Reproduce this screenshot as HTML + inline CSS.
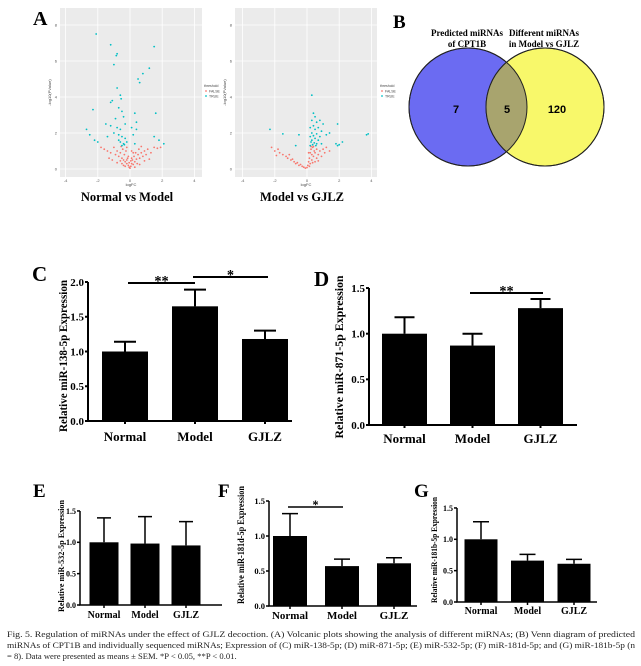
<!DOCTYPE html>
<html><head><meta charset="utf-8"><style>
html,body{margin:0;padding:0;background:#fff;}
svg{display:block;font-family:"Liberation Serif",serif;}
</style></head><body>
<svg id="fig" width="641" height="666" viewBox="0 0 641 666" xmlns="http://www.w3.org/2000/svg">
<!-- Panel A -->
<text x="33" y="25" font-size="20" font-weight="bold">A</text>
<g id="volcL"></g>
<g id="volcR"></g>
<text x="127" y="201" font-size="12.5" font-weight="bold" text-anchor="middle">Normal vs Model</text>
<text x="302" y="201" font-size="12.5" font-weight="bold" text-anchor="middle">Model vs GJLZ</text>
<!-- Panel B -->
<text x="393" y="28" font-size="19" font-weight="bold">B</text>
<g>
<circle cx="468" cy="107" r="59" fill="#6b6bf2" stroke="#222" stroke-width="1"/>
<circle cx="545" cy="107" r="59" fill="#f8f86a" stroke="#222" stroke-width="1"/>
<clipPath id="cpB"><circle cx="468" cy="107" r="59"/></clipPath>
<circle cx="545" cy="107" r="59" fill="#a8a46e" clip-path="url(#cpB)"/>
<circle cx="468" cy="107" r="59" fill="none" stroke="#222" stroke-width="1"/>
<circle cx="545" cy="107" r="59" fill="none" stroke="#222" stroke-width="1"/>
<text x="456" y="113" font-size="11" font-weight="bold" text-anchor="middle" font-family="Liberation Sans, sans-serif">7</text>
<text x="507" y="113" font-size="11" font-weight="bold" text-anchor="middle" font-family="Liberation Sans, sans-serif">5</text>
<text x="557" y="113" font-size="11" font-weight="bold" text-anchor="middle" font-family="Liberation Sans, sans-serif">120</text>
<text x="467" y="36" font-size="9" font-weight="bold" text-anchor="middle">Predicted miRNAs</text>
<text x="467" y="47" font-size="9" font-weight="bold" text-anchor="middle">of CPT1B</text>
<text x="544" y="36" font-size="9" font-weight="bold" text-anchor="middle">Different miRNAs</text>
<text x="544" y="47" font-size="9" font-weight="bold" text-anchor="middle">in Model vs GJLZ</text>
</g>
<!-- Panel letters -->
<text x="32" y="281" font-size="21" font-weight="bold">C</text>
<text x="314" y="286" font-size="21" font-weight="bold">D</text>
<text x="33" y="497" font-size="19" font-weight="bold">E</text>
<text x="218" y="497" font-size="19" font-weight="bold">F</text>
<text x="414" y="497" font-size="19" font-weight="bold">G</text>
<g id="bars"></g>
<g font-size="8.6" fill="#222">
<text x="7" y="637" textLength="628" lengthAdjust="spacingAndGlyphs">Fig. 5. Regulation of miRNAs under the effect of GJLZ decoction. (A) Volcanic plots showing the analysis of different miRNAs; (B) Venn diagram of predicted</text>
<text x="7" y="648" textLength="628" lengthAdjust="spacingAndGlyphs">miRNAs of CPT1B and individually sequenced miRNAs; Expression of (C) miR-138-5p; (D) miR-871-5p; (E) miR-532-5p; (F) miR-181d-5p; and (G) miR-181b-5p (n</text>
<text x="7" y="659">= 8). Data were presented as means ± SEM. *P &lt; 0.05, **P &lt; 0.01.</text>
</g>
</svg>
<script>
const NS="http://www.w3.org/2000/svg";
// ---------- Volcano data ----------
const volcTicksX=[-4,-2,0,2,4];
const volcTicksY=[0,2,4,6,8];
const leftTrue=[[-2.1,7.5],[-1.2,6.9],[-0.8,6.4],[-0.85,6.3],[-1.0,5.8],[1.5,6.8],[1.2,5.6],[0.8,5.3],[0.5,5.0],[0.6,4.8],[-0.8,4.5],[-0.6,4.1],[-0.55,3.9],[-1.2,3.7],[-1.1,3.8],[-2.3,3.3],[-0.7,3.4],[-0.5,3.2],[0.3,3.1],[1.6,3.1],[-0.9,2.8],[-0.4,2.9],[0.4,2.6],[-1.5,2.5],[-1.2,2.4],[-0.8,2.3],[-0.6,2.2],[-0.3,2.5],[0.1,2.3],[0.4,2.2],[-2.7,2.2],[-2.5,1.9],[-1.0,2.0],[-0.7,1.9],[-0.5,1.8],[-0.3,1.7],[0.2,1.9],[1.5,1.8],[1.8,1.6],[-2.2,1.6],[-2.0,1.5],[-1.4,1.8],[-0.6,1.5],[-0.4,1.4],[-0.2,1.5],[0.3,1.4],[2.1,1.4],[-0.5,1.3],[-0.35,1.35],[-0.7,1.6]];
const leftFalse=[[-1.8,1.2],[-1.6,1.1],[-1.4,1.0],[-1.2,0.9],[-1.0,1.2],[-0.9,0.8],[-0.8,1.0],[-0.7,0.7],[-0.6,0.9],[-0.5,0.6],[-0.45,1.1],[-0.4,0.5],[-0.35,0.8],[-0.3,0.4],[-0.25,1.0],[-0.2,0.3],[-0.15,0.6],[-0.1,0.2],[-0.05,0.1],[0,0.05],[0.05,0.15],[0.1,0.3],[0.15,0.5],[0.2,0.25],[0.25,0.7],[0.3,0.4],[0.35,0.9],[0.4,0.55],[0.5,0.8],[0.55,1.1],[0.6,0.6],[0.7,0.9],[0.8,0.7],[0.9,1.0],[1.0,0.8],[1.1,1.1],[1.3,0.9],[1.5,1.2],[1.7,1.15],[1.9,1.2],[-0.3,0.15],[-0.2,0.5],[-0.1,0.7],[0.1,0.6],[0.2,0.9],[-0.5,0.3],[-0.6,0.45],[0.45,0.3],[0.6,0.25],[-1.3,0.6],[-1.1,0.5],[0.9,0.45],[1.2,0.55],[-0.8,0.35],[-0.4,0.2],[0.3,0.1],[0.05,0.45],[-0.05,0.35],[-0.2,1.2],[0.1,1.0],[-0.55,1.25],[0.7,1.25]];
const rightTrue=[[0.3,4.1],[0.4,3.1],[0.5,2.9],[0.3,2.7],[0.6,2.6],[0.8,2.7],[1.0,2.5],[0.4,2.4],[0.2,2.3],[0.7,2.3],[0.5,2.2],[0.9,2.1],[0.3,2.0],[0.6,1.95],[0.4,1.85],[0.2,1.8],[0.8,1.8],[1.2,1.9],[0.5,1.7],[0.3,1.6],[0.7,1.6],[0.25,1.5],[0.45,1.45],[0.6,1.4],[0.35,1.35],[0.2,1.3],[0.55,1.3],[0.9,1.4],[1.4,2.0],[-2.3,2.2],[-1.5,1.95],[-0.5,1.9],[1.9,2.5],[1.8,1.4],[1.9,1.3],[2.0,1.35],[2.2,1.5],[3.7,1.9],[3.8,1.95],[-0.7,1.3]];
const rightFalse=[[-2.2,1.2],[-2.0,1.0],[-1.8,1.1],[-1.7,0.9],[-1.5,0.8],[-1.3,0.7],[-1.2,0.6],[-1.0,0.5],[-0.9,0.55],[-0.8,0.4],[-0.7,0.3],[-0.6,0.35],[-0.5,0.2],[-0.4,0.25],[-0.3,0.15],[-0.2,0.1],[-0.1,0.05],[0,0.08],[0.05,0.2],[0.1,0.4],[0.15,0.6],[0.2,0.9],[0.2,0.3],[0.25,1.1],[0.3,0.5],[0.3,0.8],[0.35,1.2],[0.4,0.7],[0.45,1.0],[0.5,0.4],[0.5,0.9],[0.6,1.1],[0.6,0.6],[0.7,0.8],[0.8,1.0],[0.9,0.7],[1.0,1.1],[1.1,0.9],[1.2,1.2],[1.4,1.0],[0.15,0.15],[0.1,0.9],[0.35,0.35],[-1.1,0.8],[-1.9,0.75],[0.25,1.25],[0.4,1.25],[0.7,0.45]];

function mk(tag,attrs,parent){const e=document.createElementNS(NS,tag);for(const k in attrs)e.setAttribute(k,attrs[k]);parent.appendChild(e);return e;}

function volcano(gid,left,x0scale,ptsTrue,ptsFalse,legX){
  const g=document.getElementById(gid);
  const right=left+142, top=8, bottom=177;
  const sx=v=>x0scale+v*16.1;
  const sy=v=>169-v*18;
  const bg=mk('rect',{x:left,y:top,width:right-left,height:bottom-top,fill:'#ebebeb'},g);
  
  
  volcTicksX.forEach(t=>{mk('line',{x1:sx(t),x2:sx(t),y1:top,y2:bottom,stroke:'#fff','stroke-width':0.8},g);
    const tl=mk('text',{x:sx(t),y:182,'font-size':4,'text-anchor':'middle',fill:'#555','font-family':'Liberation Sans, sans-serif'},g);tl.textContent=t;
    
    });
  volcTicksY.forEach(t=>{mk('line',{x1:left,x2:right,y1:sy(t),y2:sy(t),stroke:'#fff','stroke-width':0.8},g);
    const tl=mk('text',{x:left-3,y:sy(t)+1.5,'font-size':4,'text-anchor':'end',fill:'#555','font-family':'Liberation Sans, sans-serif'},g);tl.textContent=t;
    
    });
  const xt=mk('text',{x:(left+right)/2,y:186,'font-size':4,'text-anchor':'middle',fill:'#444','font-family':'Liberation Sans, sans-serif'},g);xt.textContent='logFC';
  
  
  const yt=mk('text',{x:0,y:0,'font-size':4,'text-anchor':'middle',fill:'#444','font-family':'Liberation Sans, sans-serif',transform:`translate(${left-9},${(top+bottom)/2}) rotate(-90)`},g);yt.textContent='-log10(PValue)';
  
  
  ptsFalse.forEach(p=>{const c=mk('circle',{cx:sx(p[0]),cy:sy(p[1]),r:0.9,fill:'#f8766d'},g);
    
    });
  ptsTrue.forEach(p=>{const c=mk('circle',{cx:sx(p[0]),cy:sy(p[1]),r:0.9,fill:'#00bfc4'},g);
    
    });
  const lg=mk('g',{'font-family':'Liberation Sans, sans-serif','font-size':3.5,fill:'#444'},g);
  
  
  mk('text',{x:legX,y:87},lg).textContent='threshold';
  mk('circle',{cx:legX+2,cy:91,r:0.9,fill:'#f8766d'},lg);
  mk('text',{x:legX+5,y:92.3},lg).textContent='FALSE';
  mk('circle',{cx:legX+2,cy:96,r:0.9,fill:'#00bfc4'},lg);
  mk('text',{x:legX+5,y:97.3},lg).textContent='TRUE';
}
volcano('volcL',60,130,leftTrue,leftFalse,204);
volcano('volcR',235,307,rightTrue,rightFalse,380);

// ---------- Bar chart data ----------
const categories=['Normal','Model','GJLZ'];
const cMeans=[1.0,1.65,1.18];
const cErrors=[0.14,0.24,0.12];
const dMeans=[1.0,0.87,1.28];
const dErrors=[0.18,0.13,0.10];
const eMeans=[1.0,0.98,0.95];
const eErrors=[0.39,0.43,0.38];
const fMeans=[1.0,0.57,0.61];
const fErrors=[0.32,0.10,0.08];
const gMeans=[1.0,0.66,0.61];
const gErrors=[0.28,0.10,0.07];
const cTicks=[0,0.5,1.0,1.5,2.0];
const smallTicks=[0,0.5,1.0,1.5];
const cTitle='Relative miR-138-5p Expression';
const dTitle='Relative miR-871-5p Expression';
const eTitle='Relative miR-532-5p Expression';
const fTitle='Relative miR-181d-5p Expression';
const gTitle='Relative miR-181b-5p Expression';

const barsG=document.getElementById('bars');
function barChart(name,L,means,errs,ticks,title,sigs){
  const g=mk('g',{},barsG);
  
  
  const yS=v=>L.y0-v*L.unit;
  const xS=i=>L.c0+i*L.step;
  means.forEach((m,i)=>{
    const b=mk('rect',{x:xS(i)-L.bw/2,y:yS(m),width:L.bw,height:L.y0-yS(m),fill:'#000'},g);
    
    
    const e=mk('path',{d:`M${xS(i)},${yS(m)}V${yS(m+errs[i])}M${xS(i)-L.cap},${yS(m+errs[i])}H${xS(i)+L.cap}`,stroke:'#000','stroke-width':L.sw,fill:'none'},g);
    
    
    const t=mk('text',{x:xS(i),y:L.labY,'font-size':L.lf,'font-weight':'bold','text-anchor':'middle'},g);t.textContent=categories[i];
    
    
  });
  const ax=mk('path',{d:`M${L.ax},${yS(ticks[ticks.length-1])}V${L.y0}H${L.xEnd}`,stroke:'#000','stroke-width':L.sw,fill:'none'},g);
  
  
  ticks.forEach(t=>{
    mk('line',{x1:L.ax-3,x2:L.ax,y1:yS(t),y2:yS(t),stroke:'#000','stroke-width':L.sw},g);
    const tl=mk('text',{x:L.ax-4,y:yS(t)+L.tf*0.35,'font-size':L.tf,'font-weight':'bold','text-anchor':'end'},g);tl.textContent=t.toFixed(1);
    
    
  });
  means.forEach((m,i)=>{mk('line',{x1:xS(i),x2:xS(i),y1:L.y0,y2:L.y0+3,stroke:'#000','stroke-width':L.sw},g);});
  const yt=mk('text',{x:0,y:0,'font-size':L.ttf,'font-weight':'bold','text-anchor':'middle',textLength:L.tl,lengthAdjust:'spacingAndGlyphs',transform:`translate(${L.tx},${L.ty}) rotate(-90)`},g);yt.textContent=title;
  
  
  (sigs||[]).forEach(s=>{
    const l=mk('line',{x1:s[0],x2:s[1],y1:s[2],y2:s[2],stroke:'#000','stroke-width':L.sw},g);
    
    
    const st=mk('text',{x:(s[0]+s[1])/2,y:s[2]-1+L.lf*0.25,'font-size':L.lf*1.1,'font-weight':'bold','text-anchor':'middle'},g);st.textContent=s[3];
    
    
  });
}
barChart('chart-c',{ax:88,y0:421,unit:69.5,xEnd:292,c0:125,step:70,bw:46,cap:11,sw:2,labY:441,lf:13,tf:11,ttf:12,tl:152,tx:67,ty:356},cMeans,cErrors,cTicks,cTitle,[[128,195,283,'**'],[193,268,277,'*']]);
barChart('chart-d',{ax:369,y0:425,unit:91.3,xEnd:577,c0:404.5,step:68,bw:45,cap:10,sw:2,labY:443,lf:13,tf:11,ttf:12,tl:163,tx:343,ty:357},dMeans,dErrors,smallTicks,dTitle,[[470,543,293,'**']]);
barChart('chart-e',{ax:80,y0:605,unit:62.7,xEnd:222,c0:104,step:41,bw:29,cap:7,sw:1.5,labY:618,lf:10,tf:8,ttf:8.5,tl:112,tx:64,ty:556},eMeans,eErrors,smallTicks,eTitle,[]);
barChart('chart-f',{ax:269,y0:606,unit:70,xEnd:417,c0:290,step:52,bw:34,cap:8,sw:1.5,labY:619,lf:11,tf:8.5,ttf:9,tl:118,tx:244,ty:545},fMeans,fErrors,smallTicks,fTitle,[[288,343,507,'*']]);
barChart('chart-g',{ax:457,y0:602,unit:62.7,xEnd:597,c0:481,step:46.5,bw:33,cap:8,sw:1.5,labY:614,lf:10,tf:8,ttf:8.5,tl:106,tx:437,ty:550},gMeans,gErrors,smallTicks,gTitle,[]);
</script>
</body></html>
